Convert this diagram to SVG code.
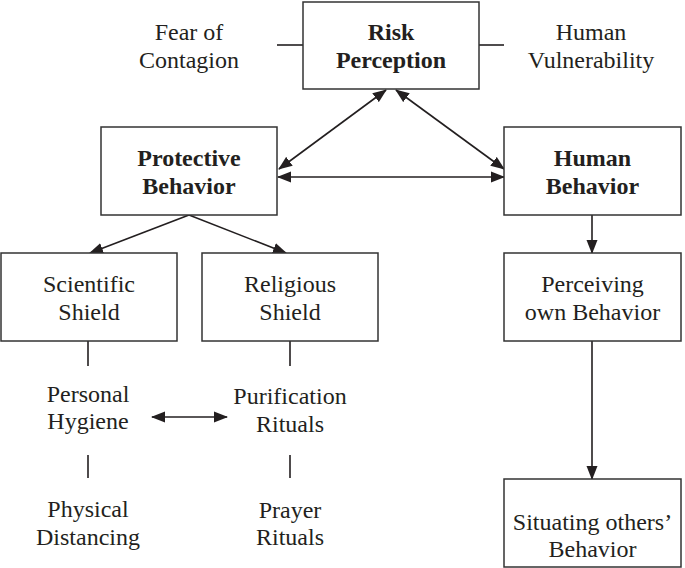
<svg xmlns="http://www.w3.org/2000/svg" width="685" height="568" viewBox="0 0 685 568">
<style>
.box{fill:#fff;stroke:#333;stroke-width:1.5}
text{font-family:"Liberation Serif","Times New Roman",serif;font-size:24px;fill:#231f20;text-anchor:middle}
.b{font-weight:bold}
.ln{stroke:#231f20;stroke-width:1.6;fill:none}
</style>
<defs>
<marker id="ah" markerUnits="userSpaceOnUse" markerWidth="14" markerHeight="12" refX="13" refY="5.5" orient="auto-start-reverse" viewBox="0 0 14 11">
<path d="M0,0 L14,5.5 L0,11 z" fill="#231f20"/>
</marker>
</defs>
<rect width="685" height="568" fill="#fff"/>
<g id="connectors">
<line class="ln" x1="277" y1="45" x2="303" y2="45"/>
<line class="ln" x1="479" y1="45" x2="504" y2="45"/>
<line class="ln" x1="386" y1="90" x2="279" y2="169" marker-start="url(#ah)" marker-end="url(#ah)"/>
<line class="ln" x1="396" y1="90" x2="504" y2="169" marker-start="url(#ah)" marker-end="url(#ah)"/>
<line class="ln" x1="278" y1="177" x2="504" y2="177" marker-start="url(#ah)" marker-end="url(#ah)"/>
<line class="ln" x1="189" y1="215" x2="90" y2="253" marker-end="url(#ah)"/>
<line class="ln" x1="189" y1="215" x2="286" y2="253" marker-end="url(#ah)"/>
<line class="ln" x1="592" y1="215" x2="592" y2="253" marker-end="url(#ah)"/>
<line class="ln" x1="592" y1="341" x2="592" y2="479" marker-end="url(#ah)"/>
<line class="ln" x1="88" y1="341" x2="88" y2="366"/>
<line class="ln" x1="290" y1="341" x2="290" y2="366"/>
<line class="ln" x1="88" y1="455" x2="88" y2="478"/>
<line class="ln" x1="290" y1="455" x2="290" y2="478"/>
<line class="ln" x1="152" y1="417" x2="227" y2="417" marker-start="url(#ah)" marker-end="url(#ah)"/>
</g>
<g id="risk-perception">
<rect class="box" x="303" y="2" width="176" height="87"/>
<text class="b" x="391" y="40">Risk</text>
<text class="b" x="391" y="68">Perception</text>
</g>
<g id="fear-of-contagion">
<text x="189" y="40">Fear of</text>
<text x="189" y="68">Contagion</text>
</g>
<g id="human-vulnerability">
<text x="591" y="40">Human</text>
<text x="591" y="68">Vulnerability</text>
</g>
<g id="protective-behavior">
<rect class="box" x="101" y="127" width="176" height="88"/>
<text class="b" x="189" y="166">Protective</text>
<text class="b" x="189" y="194">Behavior</text>
</g>
<g id="human-behavior">
<rect class="box" x="504" y="127" width="177" height="88"/>
<text class="b" x="592.5" y="166">Human</text>
<text class="b" x="592.5" y="194">Behavior</text>
</g>
<g id="scientific-shield">
<rect class="box" x="1" y="253" width="176" height="88"/>
<text x="89" y="292">Scientific</text>
<text x="89" y="320">Shield</text>
</g>
<g id="religious-shield">
<rect class="box" x="202" y="253" width="176" height="88"/>
<text x="290" y="292">Religious</text>
<text x="290" y="320">Shield</text>
</g>
<g id="perceiving-own-behavior">
<rect class="box" x="504" y="253" width="177" height="88"/>
<text x="592.5" y="292">Perceiving</text>
<text x="592.5" y="320">own Behavior</text>
</g>
<g id="situating-others-behavior">
<rect class="box" x="504" y="479" width="177" height="88"/>
<text x="592.5" y="530">Situating others’</text>
<text x="592.5" y="557">Behavior</text>
</g>
<g id="personal-hygiene">
<text x="88" y="402">Personal</text>
<text x="88" y="429">Hygiene</text>
</g>
<g id="purification-rituals">
<text x="290" y="404">Purification</text>
<text x="290" y="432">Rituals</text>
</g>
<g id="physical-distancing">
<text x="88" y="517">Physical</text>
<text x="88" y="545">Distancing</text>
</g>
<g id="prayer-rituals">
<text x="290" y="518">Prayer</text>
<text x="290" y="545">Rituals</text>
</g>
</svg>
